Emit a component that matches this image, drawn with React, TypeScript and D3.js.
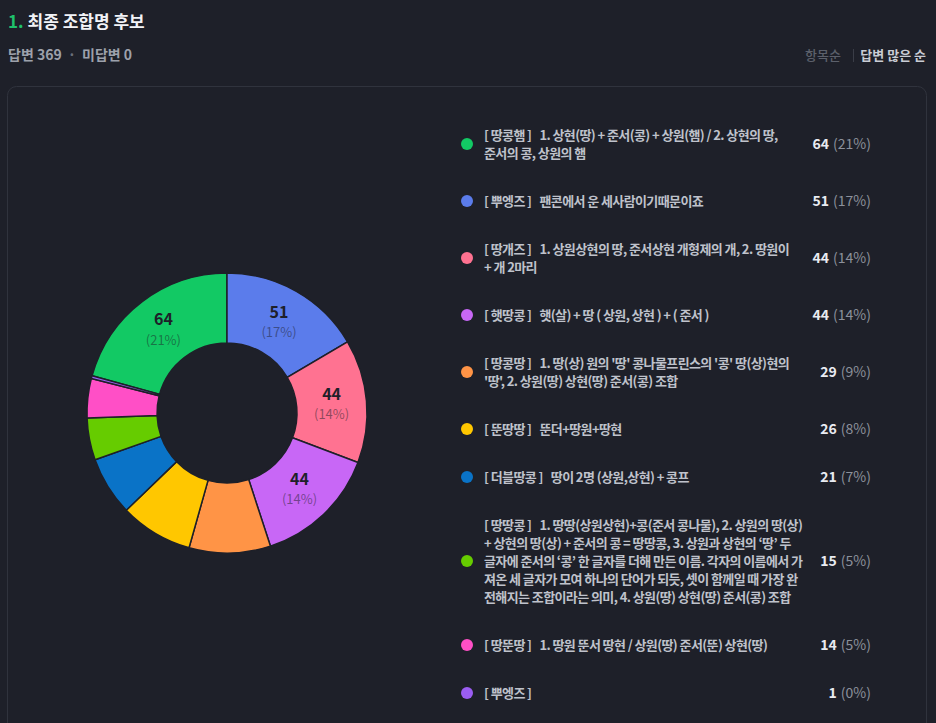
import React from 'react';
import * as d3 from 'd3';

const names = ['땅콩햄', '뿌엥즈', '땅개즈', '햇땅콩', '땅콩땅', '뚠땅땅', '더블땅콩', '땅땅콩', '땅뚠땅', '뿌엥즈'];
const values = [64, 51, 44, 44, 29, 26, 21, 15, 14, 1];
const colors = ['#12C964', '#5B7CEB', '#FF7291', '#C867F6', '#FF9446', '#FFC700', '#0A73C7', '#66CC00', '#FF4FC6', '#9B5DF2'];
const descLines: string[][] = [
  ['1. 상현(땅) + 준서(콩) + 상원(햄) / 2. 상현의 땅,', '준서의 콩, 상원의 햄'],
  ['팬콘에서 운 세사람이기때문이죠'],
  ['1. 상원상현의 땅, 준서상현 개형제의 개, 2. 땅원이', '+ 개 2마리'],
  ['햇(살) + 땅 ( 상원, 상현 ) + ( 준서 )'],
  ["1. 땅(상) 원의 '땅' 콩나물프린스의 '콩' 땅(상)현의", "'땅', 2. 상원(땅) 상현(땅) 준서(콩) 조합"],
  ['뚠더+땅원+땅현'],
  ['땅이 2명 (상원,상현) + 콩프'],
  [
    '1. 땅땅(상원상현)+콩(준서 콩나물), 2. 상원의 땅(상)',
    '+ 상현의 땅(상) + 준서의 콩 = 땅땅콩, 3. 상원과 상현의 ‘땅’ 두',
    '글자에 준서의 ‘콩’ 한 글자를 더해 만든 이름. 각자의 이름에서 가',
    '져온 세 글자가 모여 하나의 단어가 되듯, 셋이 함께일 때 가장 완',
    '전해지는 조합이라는 의미, 4. 상원(땅) 상현(땅) 준서(콩) 조합',
  ],
  ['1. 땅원 뚠서 땅현 / 상원(땅) 준서(뚠) 상현(땅)'],
  [],
];
const titleNum = '1.';
const titleText = '최종 조합명 후보';
const answered = 369;
const unanswered = 0;
const sortLabels = ['항목순', '답변 많은 순'];

const W = 936;
const H = 723;
const FONT = '"Noto Sans CJK KR", "Noto Sans", sans-serif';

export default function App() {
  const total = d3.sum(values);
  const cx = 227;
  const cy = 413;
  const outerR = 140;
  const innerR = 70;
  const offset = (values[0] / total) * Math.PI * 2;
  const pie = d3
    .pie<number>()
    .sort(null)
    .startAngle(-offset)
    .endAngle(Math.PI * 2 - offset);
  const arcs = pie(values);
  const arc = d3.arc<d3.PieArcDatum<number>>().innerRadius(innerR).outerRadius(outerR);
  const pct = (v: number) => Math.round((v / total) * 100);

  // legend layout
  const lh = 18;
  const gap = 30;
  let y = 111;
  const rows = values.map((v, i) => {
    const n = Math.max(1, descLines[i].length);
    const h = n * lh + gap;
    const top = y;
    y += h;
    return { top, h, n, center: top + h / 2 };
  });

  return (
    <div style={{ position: 'absolute', left: 0, top: 0, width: W, height: H, background: '#1E2029', overflow: 'hidden' }}>
      <svg width={W} height={H} style={{ display: 'block', fontFamily: FONT }}>
        <rect x={0} y={0} width={W} height={H} fill="#1E2029" />
        {/* header */}
        <text x={8} y={28} fontSize={17} fontWeight={700}>
          <tspan fill="#1FC16B">{titleNum}</tspan>
          <tspan fill="#F2F3F7" dx={4}>{titleText}</tspan>
        </text>
        <text x={8} y={60} fontSize={14} fill="#9DA1AB" fontWeight={600}>
          <tspan>{`답변 ${answered}`}</tspan>
          <tspan dx={6} fill="#6A6E79">·</tspan>
          <tspan dx={6}>{`미답변 ${unanswered}`}</tspan>
        </text>
        <text x={926} y={60} fontSize={13} textAnchor="end" fontWeight={700} fill="#C9CCD4">
          {sortLabels[1]}
        </text>
        <line x1={853.5} x2={853.5} y1={49} y2={62} stroke="#3A3D47" />
        <text x={841} y={60} fontSize={13} textAnchor="end" fontWeight={500} fill="#5C606B">
          {sortLabels[0]}
        </text>
        {/* card */}
        <rect x={7.5} y={86.5} width={919} height={720} rx={9} fill="#1E2029" stroke="#30333D" />
        {/* donut */}
        <g transform={`translate(${cx},${cy})`}>
          {arcs.map((a, i) => (
            <path key={i} d={arc(a) || ''} fill={colors[i]} stroke="#1E2029" strokeWidth={1.5} />
          ))}
          {arcs.map((a, i) => {
            if (pct(values[i]) < 10) return null;
            const [x, yy] = arc.centroid(a);
            return (
              <g key={'l' + i}>
                <text x={x} y={yy - 4} textAnchor="middle" fontSize={16} fontWeight={600} fill="#1E2029">
                  {values[i]}
                </text>
                <text x={x} y={yy + 15.5} textAnchor="middle" fontSize={13} fill="#1E2029" fillOpacity={0.5}>
                  {`(${pct(values[i])}%)`}
                </text>
              </g>
            );
          })}
        </g>
        {/* legend */}
        {rows.map((r, i) => {
          const firstY = r.center - ((r.n - 1) * lh) / 2;
          const lines = descLines[i];
          return (
            <g key={'lg' + i}>
              <circle cx={467} cy={r.center} r={6} fill={colors[i]} />
              <text x={484} y={firstY + 4.5} fontSize={13} fontWeight={600} fill="#BFC2CB" letterSpacing={-0.6} style={{ whiteSpace: 'pre' }}>
                <tspan>{`[ ${names[i]} ]`}</tspan>
                {lines.length > 0 && <tspan dx={8}>{lines[0]}</tspan>}
                {lines.slice(1).map((l, k) => (
                  <tspan key={k} x={484} dy={lh}>
                    {l}
                  </tspan>
                ))}
              </text>
              <text x={871} y={r.center + 5} textAnchor="end" fontSize={14}>
                <tspan fontWeight={700} fill="#E9EBF1">{values[i]}</tspan>
                <tspan fill="#8C909B" dx={4}>{`(${pct(values[i])}%)`}</tspan>
              </text>
            </g>
          );
        })}
      </svg>
    </div>
  );
}
